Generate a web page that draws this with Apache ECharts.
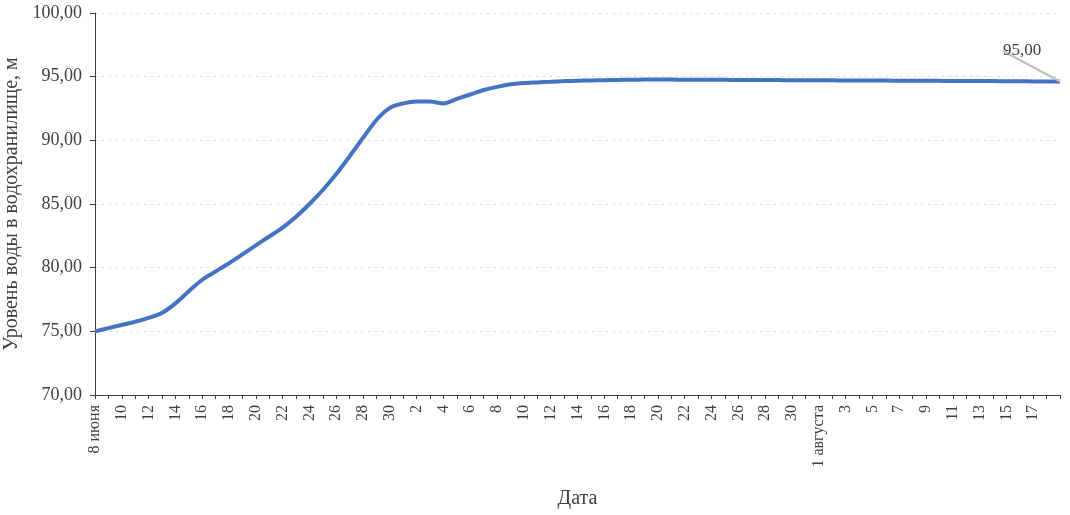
<!DOCTYPE html>
<html>
<head>
<meta charset="utf-8">
<script src="https://cdn.jsdelivr.net/npm/echarts@6/dist/echarts.min.js"></script>
<style>html,body{margin:0;padding:0;background:#fff}#c{width:1070px;height:515px}</style>
</head>
<body>
<div id="c"></div>
<script>
// Categories: 8 June .. 19 August (daily)
const categories = [
  '8 июня','9','10','11','12','13','14','15','16','17','18','19','20','21','22','23','24','25','26','27','28','29','30',
  '1','2','3','4','5','6','7','8','9','10','11','12','13','14','15','16','17','18','19','20','21','22','23','24','25','26','27','28','29','30','31',
  '1 августа','2','3','4','5','6','7','8','9','10','11','12','13','14','15','16','17','18','19'
];
// Water level, m
const waterLevel = [
  75.00,75.25,75.50,75.75,76.05,76.45,77.20,78.15,79.05,79.70,80.35,81.05,81.75,82.45,83.15,84.00,85.00,86.10,87.35,88.75,90.20,91.60,92.55,
  92.90,93.05,93.05,92.90,93.25,93.60,93.95,94.20,94.40,94.50,94.55,94.60,94.65,94.68,94.70,94.72,94.74,94.76,94.77,94.77,94.77,94.76,94.76,94.75,94.75,94.74,94.74,94.73,94.73,94.72,94.72,
  94.71,94.71,94.70,94.70,94.69,94.69,94.68,94.68,94.67,94.67,94.66,94.66,94.65,94.65,94.64,94.64,94.63,94.63,94.62
];
const yTicks = { min: 70, max: 100, interval: 5 };
const endLabelText = '95,00';
const yAxisTitle = 'Уровень воды в водохранилище, м';
const xAxisTitle = 'Дата';

const lastIdx = waterLevel.length - 1;
const seriesData = waterLevel.map((v, i) => i === lastIdx ? {
  value: v,
  label: { show: true, formatter: endLabelText, position: 'top' }
} : v);

const font = '"Liberation Serif", "DejaVu Serif", serif';
const chart = echarts.init(document.getElementById('c'));
chart.setOption({
  animation: false,
  backgroundColor: '#fff',
  grid: { left: 95, right: 10, top: 13, bottom: 120, containLabel: false, outerBoundsMode: 'none' },
  xAxis: {
    type: 'category',
    data: categories,
    boundaryGap: false,
    name: xAxisTitle,
    nameLocation: 'middle',
    nameGap: 94,
    nameTextStyle: { fontFamily: font, fontSize: 20, color: '#404040' },
    axisLine: { lineStyle: { color: '#404040', width: 1 } },
    axisTick: { show: true, interval: 0, length: 4, lineStyle: { color: '#404040' } },
    axisLabel: {
      rotate: 90,
      interval: (i) => i % 2 === 0 && i < lastIdx,
      fontFamily: font, fontSize: 16, color: '#404040', margin: 10
    },
    splitLine: { show: false }
  },
  yAxis: {
    type: 'value',
    min: yTicks.min, max: yTicks.max, interval: yTicks.interval,
    name: yAxisTitle,
    nameLocation: 'middle',
    nameGap: 72,
    nameTextStyle: { fontFamily: font, fontSize: 20, color: '#404040' },
    axisLine: { show: true, lineStyle: { color: '#404040', width: 1 } },
    axisTick: { show: true, length: 5, lineStyle: { color: '#404040' } },
    axisLabel: {
      formatter: (v) => v.toFixed(2).replace('.', ','),
      fontFamily: font, fontSize: 18, color: '#404040', margin: 13
    },
    splitLine: { show: true, lineStyle: { color: '#d8d8d8', type: [2, 5], width: 1 } }
  },
  series: [{
    type: 'line',
    data: seriesData,
    smooth: 0.3,
    symbol: 'circle',
    symbolSize: 0,
    showSymbol: true,
    showAllSymbol: true,
    lineStyle: { color: '#4472C4', width: 4 },
    itemStyle: { color: '#4472C4' },
    label: { fontFamily: font, fontSize: 17, color: '#404040' },
    labelLine: { show: true, lineStyle: { color: '#bfbfbf', width: 2 } },
    labelLayout: (p) => {
      if (p.dataIndex !== lastIdx) return {};
      const r = p.rect;
      const px = r.x + r.width / 2, py = r.y + r.height / 2;
      return {
        x: px - 38, y: py - 22, align: 'center', verticalAlign: 'bottom',
        labelLinePoints: [[px - 38, py - 18], [px - 23, py - 9], [px - 8, py]]
      };
    }
  }]
});
</script>
</body>
</html>
